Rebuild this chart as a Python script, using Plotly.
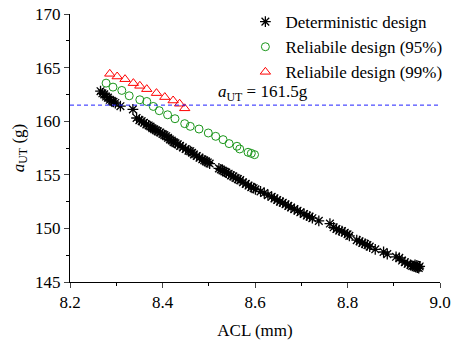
import plotly.graph_objects as go

# Deterministic design
det_acl = [8.266, 8.270, 8.274, 8.278, 8.282, 8.286, 8.290, 8.294, 8.298, 8.309, 8.336,
           8.344, 8.350, 8.355, 8.360, 8.365, 8.370, 8.374, 8.378, 8.382, 8.386, 8.390,
           8.395, 8.400, 8.404, 8.408, 8.412, 8.416, 8.420, 8.424, 8.428, 8.433, 8.438,
           8.444, 8.450, 8.456, 8.460, 8.464, 8.468, 8.474, 8.480, 8.486, 8.490, 8.494,
           8.498, 8.502,
           8.522, 8.526, 8.530, 8.534, 8.538, 8.543, 8.548, 8.553, 8.558, 8.563, 8.568,
           8.574, 8.580, 8.586, 8.592, 8.597, 8.601,
           8.612, 8.620, 8.628, 8.636, 8.642, 8.648, 8.654, 8.660, 8.666, 8.672, 8.678,
           8.685, 8.692, 8.698, 8.706, 8.712, 8.718, 8.724, 8.738,
           8.762, 8.770, 8.776, 8.782, 8.788, 8.794, 8.800, 8.804, 8.820, 8.826, 8.832,
           8.838, 8.843, 8.848, 8.860, 8.878, 8.886, 8.905, 8.912, 8.918, 8.924, 8.930,
           8.936, 8.940, 8.944, 8.948, 8.951, 8.954, 8.956, 8.950, 8.946]
det_aut = [162.8, 162.6, 162.5, 162.3, 162.2, 162.0, 161.9, 161.8, 161.7, 161.4, 161.1,
           160.3, 160.1, 160.0, 159.85, 159.7, 159.6, 159.5, 159.35, 159.25, 159.15, 159.05,
           158.95, 158.8, 158.7, 158.6, 158.45, 158.3, 158.2, 158.05, 157.95, 157.85, 157.7,
           157.55, 157.4, 157.25, 157.2, 157.05, 156.9, 156.75, 156.6, 156.45, 156.35, 156.25,
           156.15, 156.05,
           155.6, 155.5, 155.4, 155.3, 155.2, 155.1, 154.95, 154.85, 154.7, 154.6, 154.5,
           154.3, 154.15, 154.0, 153.85, 153.75, 153.65,
           153.45, 153.3, 153.1, 152.95, 152.8, 152.65, 152.5, 152.4, 152.25, 152.1, 151.95,
           151.8, 151.65, 151.5, 151.35, 151.2, 151.1, 150.95, 150.7,
           150.45, 150.1, 149.95, 149.8, 149.75, 149.6, 149.45, 149.3, 148.9, 148.8, 148.65,
           148.55, 148.45, 148.3, 148.05, 147.8, 147.6, 147.35, 147.25, 147.0, 146.85, 146.7,
           146.6, 146.5, 146.45, 146.4, 146.35, 146.3, 146.45, 146.55, 146.6]

# Reliable design (95%)
r95_acl = [8.278, 8.293, 8.312, 8.328, 8.351, 8.366, 8.380, 8.393, 8.411, 8.427, 8.448,
           8.460, 8.479, 8.499, 8.515, 8.531, 8.544, 8.561, 8.567, 8.585, 8.592, 8.599]
r95_aut = [163.55, 163.18, 162.87, 162.37, 162.0, 161.84, 161.38, 160.98, 160.6, 160.23, 159.77,
           159.52, 159.27, 158.9, 158.59, 158.28, 157.91, 157.66, 157.41, 157.1, 157.0, 156.88]

# Reliable design (99%)
r99_acl = [8.286, 8.302, 8.319, 8.337, 8.351, 8.366, 8.387, 8.405, 8.423, 8.437, 8.448]
r99_aut = [164.42, 164.17, 163.92, 163.55, 163.3, 162.99, 162.62, 162.25, 161.93, 161.63, 161.2]

threshold = 161.5
FF = "Liberation Serif, Times New Roman, Times, serif"
FS = 17

fig = go.Figure()
fig.add_trace(go.Scatter(x=det_acl, y=det_aut, mode="markers", name="Deterministic design",
                         marker=dict(symbol="asterisk-open", size=9, color="black",
                                     line=dict(color="black", width=1.3))))
fig.add_trace(go.Scatter(x=r95_acl, y=r95_aut, mode="markers", name="Reliabile design (95%)",
                         marker=dict(symbol="circle-open", size=8, color="#1a961a",
                                     line=dict(color="#1a961a", width=1))))
fig.add_trace(go.Scatter(x=r99_acl, y=r99_aut, mode="markers", name="Reliabile design (99%)",
                         marker=dict(symbol="triangle-up-open", size=9, color="#ff0000",
                                     line=dict(color="#ff0000", width=1))))

fig.add_shape(type="line", xref="paper", yref="y", x0=0, x1=0.995, y0=threshold, y1=threshold,
              line=dict(color="#2020ff", width=1, dash="4px,3px"))
fig.add_annotation(x=8.516, y=threshold, xref="x", yref="y", xanchor="left", yanchor="bottom",
                   yshift=-1, showarrow=False,
                   text="<i>a</i><sub>UT</sub> = 161.5g",
                   font=dict(family=FF, size=FS, color="black"))

fig.update_layout(
    width=451, height=340,
    margin=dict(l=70, r=11, t=14, b=58, autoexpand=False),
    plot_bgcolor="white", paper_bgcolor="white",
    font=dict(family=FF, size=FS, color="black"),
    showlegend=True,
    legend=dict(x=0.474, y=1.037, xanchor="left", yanchor="top", bgcolor="rgba(0,0,0,0)",
                font=dict(family=FF, size=FS, color="black"), itemsizing="trace",
                tracegroupgap=0),
)
fig.update_xaxes(range=[8.2, 9.0], dtick=0.2, tickformat=".1f", ticks="outside", ticklen=5,
                 showline=True, linecolor="black", linewidth=1, showgrid=False, zeroline=False,
                 minor=dict(dtick=0.1, ticks="outside", ticklen=3, tickcolor="black"),
                 title=dict(text="ACL (mm)", standoff=12, font=dict(family=FF, size=FS)),
                 tickfont=dict(family=FF, size=FS, color="black"), automargin=False,
                 ticklabeloverflow="allow")
fig.update_yaxes(range=[145, 170], dtick=5, ticks="outside", ticklen=5,
                 showline=True, linecolor="black", linewidth=1, showgrid=False, zeroline=False,
                 minor=dict(dtick=2.5, ticks="outside", ticklen=3, tickcolor="black"),
                 title=dict(text="<i>a</i><sub>UT</sub> (g)", standoff=6, font=dict(family=FF, size=FS)),
                 tickfont=dict(family=FF, size=FS, color="black"), automargin=False,
                 ticklabeloverflow="allow")

fig.write_html("out.html", config={"displayModeBar": False},
               post_script="document.body.style.margin='0';")
